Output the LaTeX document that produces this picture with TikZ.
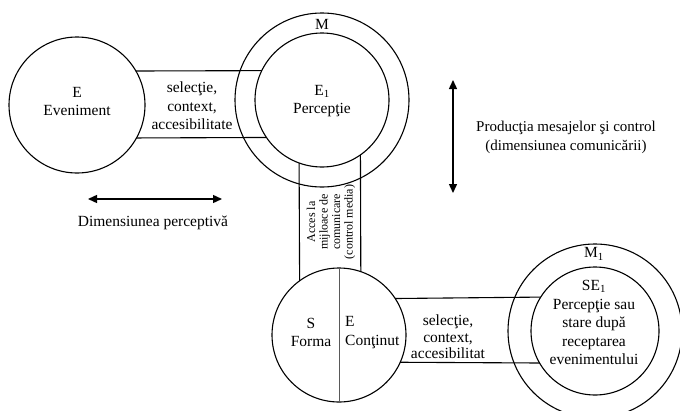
\documentclass[tikz,border=0pt]{standalone}
\usepackage{fontspec}
\setmainfont{Liberation Serif}
\usetikzlibrary{arrows.meta}

\begin{document}
\begin{tikzpicture}[x=1pt,y=-1pt,
  ring/.style={circle, draw, line width=1.1pt, inner sep=0pt, outer sep=0pt, minimum size=#1},
  band/.style={line width=1.1pt},
  lbl/.style={align=center, inner sep=0pt, font=\fontsize{15.5}{18.5}\selectfont},
  bandlbl/.style={align=center, inner sep=0pt, font=\fontsize{15.5}{16.5}\selectfont},
  medialbl/.style={align=center, inner sep=0pt, rotate=90, font=\fontsize{12}{12.5}\selectfont},
  dimarrow/.style={line width=1.4pt, {Triangle[length=9pt,width=8pt]}-{Triangle[length=9pt,width=8pt]}},
]
\useasboundingbox (0,0) rectangle (680,410);

% circles
\node[ring=136pt] (E)   at (77,105)  {};
\node[ring=174pt] (Mo)  at (322,100) {};
\node[ring=134pt] (Mi)  at (322,100) {};
\node[ring=134pt] (S)   at (339,335) {};
\node[ring=174pt] (M1o) at (595,331) {};
\node[ring=128pt] (M1i) at (595,331) {};

% band from the event to its perception
\draw[band] (E.30)    -- (Mi.154.35);
\draw[band] (E.-29.03) -- (Mi.214.55);

% band down to the message
\draw[band] (Mi.-110.07) -- (S.126.66);
\draw[band] (Mi.-55.45)  -- (S.71.73);

% band from the message to its reception
\draw[band] (S.33.52)  -- (M1i.148.96);
\draw[band] (S.-24.70) -- (M1i.210);

% form / content divider
\draw[line width=0.6pt, black!65] (S.north) -- (S.south);

% texts
\node[lbl] (tE)  at (77,101.5)  {E\\Eveniment};
\node[lbl] (tEi) at (322,101)   {E\textsubscript{1}\\Percepţie};
\node[lbl] (tM)  at (322,24)    {M};
\node[lbl] (tM1) at (594,254)   {M\textsubscript{1}};
\node[lbl] (tSE) at (594,322.5) {SE\textsubscript{1}\\Percepţie sau\\stare după\\receptarea\\evenimentului};
\node[lbl] (tS)  at (311,332.5) {S\\Forma};
\node[lbl, align=left, anchor=west] (tC) at (345,332.5) {E\\Conţinut};

\node[lbl] (b1) at (192,106) {selecţie,\\context,\\accesibilitate};
\node[bandlbl] (b2) at (448,337) {selecţie,\\context,\\accesibilitat};
\node[medialbl] (b3) at (331,222) {Acces la\\mijloace de\\comunicare\\(control media)};

% dimensions
\coordinate (vt) at (453,80);
\coordinate (vb) at (453,193);
\draw[dimarrow] (vt) -- (vb);
\node[lbl, font=\fontsize{15}{19}\selectfont] (tP) at (566,137.5)
  {Producţia mesajelor şi control\\(dimensiunea comunicării)};

\coordinate (hl) at (88,199);
\coordinate (hr) at (222,199);
\draw[dimarrow] (hl) -- (hr);
\node[lbl] (tD) at (153,223) {Dimensiunea perceptivă};
\end{tikzpicture}
\end{document}
